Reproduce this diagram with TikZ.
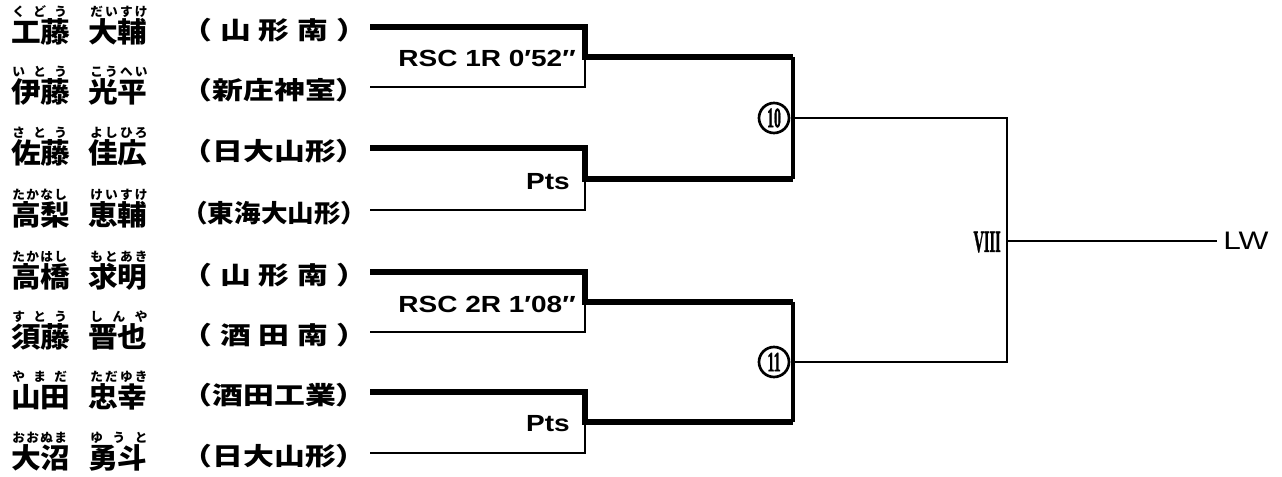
\documentclass[tikz,border=0pt]{standalone}
\usepackage{fontspec}
\usepackage{graphicx}
\newfontfamily\jpname[FakeStretch=1.06]{Noto Sans CJK JP}
\newfontfamily\jpschool[FakeStretch=1.25]{Noto Sans CJK JP}
\newfontfamily\jpruby{Noto Sans CJK JP}
\newfontfamily\latb[FakeStretch=1.2]{Liberation Sans}
\newfontfamily\latw[FakeStretch=1.25]{Liberation Sans}
\newfontfamily\serbold[UprightFont=* Bold, FakeBold=1.5]{Liberation Serif}
\newcommand\squeezed[2]{\scalebox{#1}[1]{#2}}
\newcommand\playerrow[8]{%
  \node[pname] (sur#1) at (11,{#2+5}) {#3};
  \node[pname] (giv#1) at (88,{#2+5}) {#4};
  \node[pruby] (rs#1) at (12,{#2-15}) {\makebox[41pt]{#5}};
  \node[pruby] (rg#1) at (90,{#2-15}) {\makebox[43pt]{#6}};
  \node[pschool] (sch#1) at (181,{#2+3}) {#7};
  \coordinate (s#1) at (370,#2);
}
\tikzset{
  pname/.style={anchor=west, inner sep=0, font=\jpname\bfseries\fontsize{21}{21}\selectfont},
  pruby/.style={anchor=west, inner sep=0, font=\jpruby\bfseries\fontsize{9.5}{9.5}\selectfont},
  pschool/.style={anchor=west, inner sep=0, font=\jpschool\bfseries\fontsize{18.5}{18.5}\selectfont},
  result/.style={anchor=east, inner sep=0, font=\latb\bfseries\fontsize{17.5}{17.5}\selectfont},
  circnum/.style={circle, draw, line width=2pt, minimum size=22.5pt, inner sep=0,
    font=\serbold\fontsize{21}{21}\selectfont},
  thk/.style={line width=4.6pt},
  thn/.style={line width=2.1pt},
  mdl/.style={line width=2.4pt},
}
\begin{document}
\begin{tikzpicture}[x=0.75pt,y=-0.75pt]
\useasboundingbox (0,0) rectangle (1282,477);

\playerrow{1}{27}{工藤}{大輔}{く\hfill ど\hfill う}{だ\hfill い\hfill す\hfill け}{\makebox[139.5pt]{（\hfill 山\hfill 形\hfill 南\hfill ）}}{}
\playerrow{2}{87}{伊藤}{光平}{い\hfill と\hfill う}{こ\hfill う\hfill へ\hfill い}{\makebox[139.5pt]{（新庄神室）}}{}
\playerrow{3}{148}{佐藤}{佳広}{さ\hfill と\hfill う}{よ\hfill し\hfill ひ\hfill ろ}{\makebox[139.5pt]{（日大山形）}}{}
\playerrow{4}{210}{高梨}{恵輔}{た\hfill か\hfill な\hfill し}{け\hfill い\hfill す\hfill け}{\squeezed{0.862}{（東海大山形）}}{}
\playerrow{5}{272}{高橋}{求明}{た\hfill か\hfill は\hfill し}{も\hfill と\hfill あ\hfill き}{\makebox[139.5pt]{（\hfill 山\hfill 形\hfill 南\hfill ）}}{}
\playerrow{6}{332}{須藤}{晋也}{す\hfill と\hfill う}{し\hfill ん\hfill や}{\makebox[139.5pt]{（\hfill 酒\hfill 田\hfill 南\hfill ）}}{}
\playerrow{7}{392}{山田}{忠幸}{や\hfill ま\hfill だ}{た\hfill だ\hfill ゆ\hfill き}{\makebox[139.5pt]{（酒田工業）}}{}
\playerrow{8}{453}{大沼}{勇斗}{お\hfill お\hfill ぬ\hfill ま}{ゆ\hfill う\hfill と}{\makebox[139.5pt]{（日大山形）}}{}

% junctions
\coordinate (b1) at (585,57);
\coordinate (b2) at (585,179);
\coordinate (b3) at (585,302);
\coordinate (b4) at (585,422);
\coordinate (t1) at (793,57);
\coordinate (t2) at (793,179);
\coordinate (t3) at (793,302);
\coordinate (t4) at (793,422);
\coordinate (q1) at (793,118);
\coordinate (q2) at (793,362);
\coordinate (u1) at (1007,118);
\coordinate (u2) at (1007,362);
\coordinate (fj) at (1007,241);
\coordinate (fe) at (1217,241);

% first round
\draw[thk] (s1) -| (b1) -- (t1);
\draw[thn] (s2) -| (b1);
\draw[thk] (s3) -| (b2) -- (t2);
\draw[thn] (s4) -| (b2);
\draw[thk] (s5) -| (b3) -- (t3);
\draw[thn] (s6) -| (b3);
\draw[thk] (s7) -| (b4) -- (t4);
\draw[thn] (s8) -| (b4);

% second round
\draw[mdl] (t1) -- (t2);
\draw[mdl] (t3) -- (t4);
\draw[thn] (q1) -- (u1) -- (u2) -- (q2);
\draw[thn] (fj) -- (fe);

% labels
\node[result] (res1) at (576,58) {RSC 1R 0′52″};
\node[result] (res2) at (570,182) {Pts};
\node[result] (res3) at (576,304) {RSC 2R 1′08″};
\node[result] (res4) at (570,424) {Pts};

\node[circnum] (w10) at (774,118) {\squeezed{0.5}{10}};
\node[circnum] (w11) at (774,362) {\squeezed{0.5}{11}};

\node[anchor=east, inner sep=0, font=\serbold\fontsize{23}{23}\selectfont] (fin) at (1001,242) {\squeezed{0.47}{VIII}};
\node[anchor=west, inner sep=0, font=\latw\fontsize{19}{19}\selectfont] (lw) at (1223,241) {LW};
\end{tikzpicture}
\end{document}
